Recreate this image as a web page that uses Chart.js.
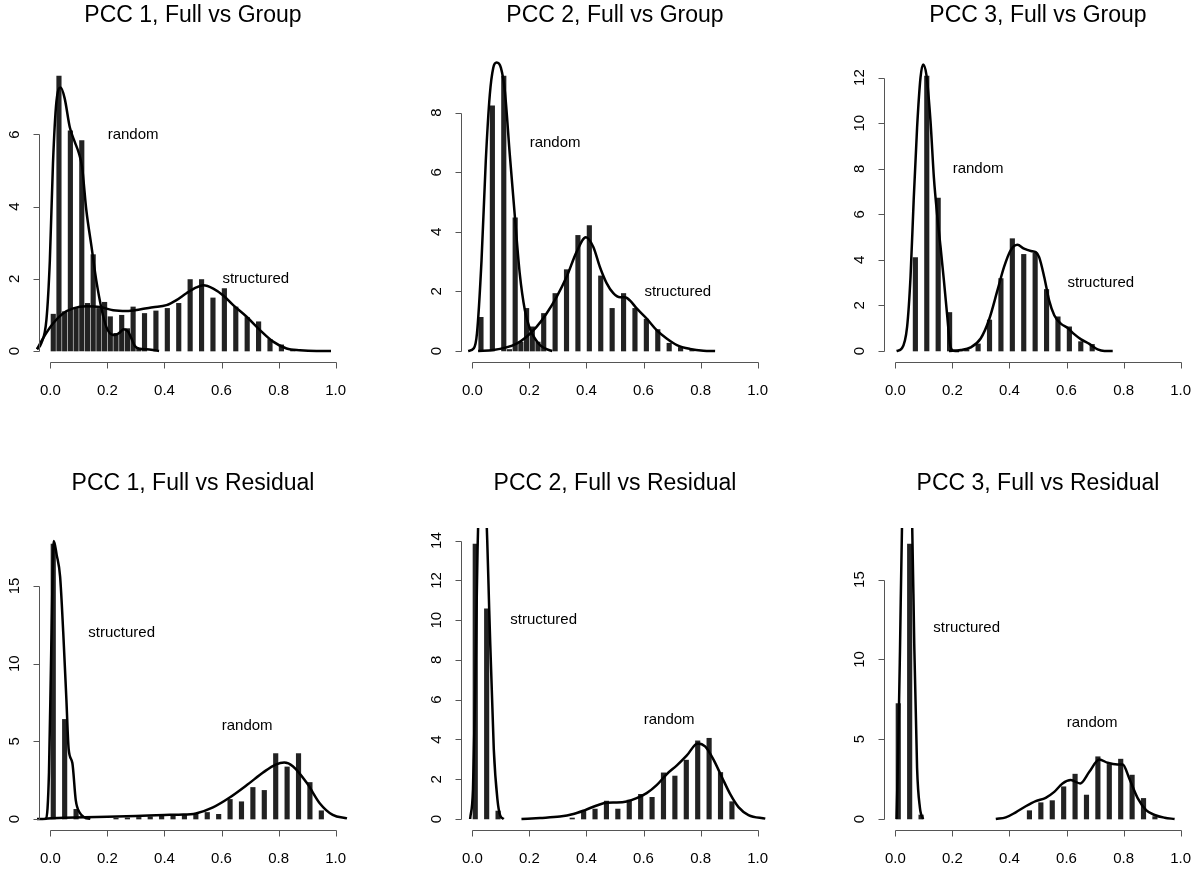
<!DOCTYPE html>
<html>
<head>
<meta charset="utf-8">
<script src="https://cdn.jsdelivr.net/npm/chart.js@4.4.0/dist/chart.umd.min.js"></script>
<style>
  html, body { margin: 0; padding: 0; background: #fff; overflow: hidden; width: 1192px; height: 869px; }
  canvas { position: absolute; }
</style>
</head>
<body>
<canvas id="p1" width="358" height="417" style="left:-6px;top:-5px"></canvas>
<canvas id="p2" width="358" height="417" style="left:416px;top:-5px"></canvas>
<canvas id="p3" width="358" height="417" style="left:839px;top:-5px"></canvas>
<canvas id="p4" width="358" height="417" style="left:-6px;top:463px"></canvas>
<canvas id="p5" width="358" height="417" style="left:416px;top:463px"></canvas>
<canvas id="p6" width="358" height="417" style="left:839px;top:463px"></canvas>
<script>
// histogram bin mids, shared by every panel
const binMids = [0.02, 0.06, 0.10, 0.14, 0.18, 0.22, 0.26, 0.30, 0.34, 0.38, 0.42, 0.46, 0.50,
                 0.54, 0.58, 0.62, 0.66, 0.70, 0.74, 0.78, 0.82, 0.86, 0.90, 0.94, 0.98];
const xTicks = [0, 0.2, 0.4, 0.6, 0.8, 1.0];
const xTickLabels = ["0.0", "0.2", "0.4", "0.6", "0.8", "1.0"];

// ---- PCC 1, Full vs Group
const p1StructBars = [1.02, 1.09, 1.18, 1.32, 1.18, 0.95, 0.99, 1.22, 1.04, 1.11, 1.18, 1.32, 1.98,
                      1.98, 1.47, 1.73, 1.22, 0.93, 0.81, 0.32, 0.17, 0.02, 0, 0, 0];
const p1RandomBars = [7.62, 6.10, 5.83, 2.67, 1.35, 0.49, 0.62, 0.05, 0, 0, 0, 0, 0,
                      0, 0, 0, 0, 0, 0, 0, 0, 0, 0, 0, 0];
const p1RandomDensX = [-0.047, -0.032, -0.014, -0.002, 0.009, 0.021, 0.036, 0.050, 0.068, 0.085, 0.099, 0.111,
                       0.126, 0.144, 0.161, 0.179, 0.196, 0.214, 0.226, 0.243, 0.257, 0.273, 0.284, 0.296,
                       0.313, 0.337, 0.360, 0.381];
const p1RandomDensY = [0.05, 0.21, 0.86, 2.5, 5.2, 6.9, 7.3, 7.0, 6.2, 5.8, 5.5, 5.1,
                       3.9, 2.9, 1.95, 1.18, 0.67, 0.46, 0.44, 0.51, 0.60, 0.53, 0.35, 0.14,
                       0.06, 0.05, 0.03, 0.0];
const p1StructDensX = [-0.047, -0.026, 0.009, 0.044, 0.080, 0.126, 0.173, 0.220, 0.267, 0.313, 0.360, 0.407,
                       0.442, 0.477, 0.512, 0.536, 0.571, 0.606, 0.641, 0.688, 0.735, 0.781, 0.828, 0.875,
                       0.933, 0.984];
const p1StructDensY = [0.05, 0.35, 0.76, 1.04, 1.18, 1.24, 1.22, 1.13, 1.11, 1.15, 1.21, 1.27,
                       1.41, 1.60, 1.76, 1.82, 1.73, 1.54, 1.27, 0.95, 0.58, 0.26, 0.07, 0.02,
                       0.0, 0.0];

// ---- PCC 2, Full vs Group
const p2StructBars = [0, 0, 0, 0.05, 0.30, 0.81, 1.26, 1.93, 2.73, 3.88, 4.21, 2.52, 1.43,
                      1.93, 1.43, 1.07, 0.72, 0.26, 0.12, 0.02, 0, 0, 0, 0, 0];
const p2RandomBars = [1.13, 8.23, 9.23, 4.47, 1.43, 0.30, 0, 0, 0, 0, 0, 0, 0,
                      0, 0, 0, 0, 0, 0, 0, 0, 0, 0, 0, 0];
const p2RandomDensX = [-0.015, 0.005, 0.016, 0.032, 0.047, 0.061, 0.073, 0.085, 0.100, 0.114, 0.131, 0.149,
                       0.166, 0.184, 0.201, 0.219, 0.237, 0.260, 0.280];
const p2RandomDensY = [0, 0.09, 0.59, 3.04, 6.4, 8.6, 9.5, 9.68, 9.5, 8.7, 6.6, 4.5,
                       2.6, 1.37, 0.76, 0.42, 0.20, 0.06, 0];
const p2StructDensX = [0.020, 0.073, 0.119, 0.155, 0.190, 0.225, 0.260, 0.295, 0.330, 0.365, 0.398, 0.424,
                       0.447, 0.471, 0.494, 0.518, 0.535, 0.553, 0.576, 0.611, 0.646, 0.681, 0.717, 0.763,
                       0.810, 0.851];
const p2StructDensY = [0, 0.03, 0.12, 0.25, 0.48, 0.81, 1.26, 1.81, 2.48, 3.32, 3.82, 3.49,
                       2.82, 2.27, 1.94, 1.80, 1.80, 1.69, 1.43, 1.09, 0.70, 0.42, 0.20, 0.07,
                       0.01, 0];

// ---- PCC 3, Full vs Group
const p3StructBars = [0, 0, 0, 0, 0, 0, 0.06, 0.31, 1.36, 3.18, 4.93, 4.24, 4.31,
                      2.70, 1.50, 1.06, 0.41, 0.29, 0, 0, 0, 0, 0, 0, 0];
const p3RandomBars = [0, 4.10, 12.07, 6.71, 1.69, 0.05, 0, 0, 0, 0, 0, 0, 0,
                      0, 0, 0, 0, 0, 0, 0, 0, 0, 0, 0, 0];
const p3RandomDensX = [0.004, 0.023, 0.041, 0.053, 0.064, 0.076, 0.088, 0.097, 0.109, 0.123, 0.135, 0.147,
                       0.158, 0.170, 0.182, 0.191, 0.203, 0.223];
const p3RandomDensY = [0, 0.12, 1.06, 3.25, 6.6, 9.8, 12.0, 12.58, 12.1, 10.1, 7.6, 5.9,
                       4.6, 3.1, 1.5, 0.33, 0.01, 0];
const p3StructDensX = [0.188, 0.229, 0.264, 0.299, 0.328, 0.358, 0.381, 0.404, 0.428, 0.451, 0.475, 0.492,
                       0.504, 0.522, 0.539, 0.557, 0.580, 0.604, 0.627, 0.651, 0.680, 0.709, 0.733, 0.762];
const p3StructDensY = [0, 0.04, 0.16, 0.55, 1.36, 2.67, 3.69, 4.42, 4.66, 4.49, 4.39, 4.34,
                       4.12, 3.24, 2.22, 1.57, 1.20, 1.01, 0.74, 0.51, 0.31, 0.07, 0, 0];

// ---- PCC 1, Full vs Residual
const p4StructBars = [17.7, 6.41, 0.62, 0.10, 0, 0, 0, 0, 0, 0, 0, 0, 0,
                      0, 0, 0, 0, 0, 0, 0, 0, 0, 0, 0, 0];
const p4RandomBars = [0, 0, 0, 0, 0, 0.05, 0.07, 0.10, 0.14, 0.18, 0.20, 0.26, 0.30,
                      0.42, 0.30, 1.26, 1.11, 2.03, 1.84, 4.21, 3.35, 4.21, 2.35, 0.53, 0];
const p4StructDensX = [-0.047, -0.015, -0.005, 0.003, 0.012, 0.022, 0.034, 0.045, 0.056, 0.064, 0.077, 0.089,
                       0.103, 0.120, 0.140];
const p4StructDensY = [0, 0.02, 3.0, 11.0, 17.9, 17.0, 15.6, 12.0, 7.7, 4.5, 3.6, 1.2,
                       0.4, 0.1, 0.02];
const p4RandomDensX = [-0.02, 0.05, 0.12, 0.20, 0.30, 0.40, 0.45, 0.51, 0.57, 0.63, 0.69, 0.75,
                       0.79, 0.82, 0.85, 0.90, 0.945, 0.99, 1.04];
const p4RandomDensY = [0.02, 0.08, 0.12, 0.15, 0.20, 0.26, 0.28, 0.36, 0.75, 1.4, 2.2, 3.05,
                       3.5, 3.63, 3.4, 2.3, 1.0, 0.26, 0.04];

// ---- PCC 2, Full vs Residual
const p5StructBars = [13.83, 10.57, 0.40, 0, 0, 0, 0, 0, 0, 0, 0, 0, 0,
                      0, 0, 0, 0, 0, 0, 0, 0, 0, 0, 0, 0];
const p5RandomBars = [0, 0, 0, 0, 0, 0, 0, 0, 0.05, 0.42, 0.50, 0.90, 0.50,
                      0.95, 1.24, 1.09, 2.32, 2.16, 2.96, 3.93, 4.06, 2.34, 0.87, 0, 0];
const p5StructDensX = [-0.008, 0.002, 0.010, 0.018, 0.035, 0.052, 0.059, 0.075, 0.088, 0.097, 0.110];
const p5StructDensY = [0, 1.5, 6.5, 13.5, 19.5, 14.0, 10.5, 3.5, 0.95, 0.2, 0];
const p5RandomDensX = [0.172, 0.237, 0.307, 0.354, 0.395, 0.436, 0.471, 0.506, 0.541, 0.576, 0.611, 0.646,
                       0.681, 0.717, 0.752, 0.790, 0.816, 0.845, 0.875, 0.904, 0.933, 0.968, 1.027];
const p5RandomDensY = [0, 0.05, 0.12, 0.25, 0.45, 0.68, 0.82, 0.83, 0.88, 1.05, 1.3, 1.7,
                       2.25, 2.7, 3.2, 3.8, 3.65, 3.0, 2.1, 1.25, 0.6, 0.2, 0.02];

// ---- PCC 3, Full vs Residual
const p6StructBars = [7.23, 17.23, 0.25, 0, 0, 0, 0, 0, 0, 0, 0, 0, 0,
                      0, 0, 0, 0, 0, 0, 0, 0, 0, 0, 0, 0];
const p6RandomBars = [0, 0, 0, 0, 0, 0, 0, 0, 0, 0, 0, 0.52, 1.02,
                      1.15, 2.02, 2.81, 1.50, 3.90, 3.42, 3.75, 2.75, 1.29, 0.15, 0, 0];
const p6StructDensX = [0.004, 0.010, 0.016, 0.023, 0.040, 0.059, 0.066, 0.076, 0.086, 0.097];
const p6StructDensY = [0, 4.5, 10.5, 18.2, 22.0, 18.2, 11.0, 3.2, 0.7, 0];
const p6RandomDensX = [0.352, 0.387, 0.422, 0.457, 0.492, 0.527, 0.557, 0.586, 0.615, 0.648, 0.680, 0.715,
                       0.744, 0.779, 0.797, 0.820, 0.850, 0.879, 0.909, 0.944, 0.979];
const p6RandomDensY = [0, 0.1, 0.42, 0.8, 1.12, 1.33, 1.7, 2.23, 2.44, 2.23, 2.96, 3.73,
                       3.52, 3.42, 3.42, 2.54, 1.29, 0.56, 0.25, 0.08, 0];

const FONT = '"Liberation Sans", Arial, Helvetica, sans-serif';

// R-style axes, title and text labels, drawn through the chart scales
const rAxes = {
  id: "rAxes",
  afterDraw(chart, args, opts) {
    const { ctx, chartArea: a } = chart;
    const x = chart.scales.x, y = chart.scales.y;
    ctx.save();
    ctx.strokeStyle = "#555";
    ctx.lineWidth = 1;
    ctx.fillStyle = "#000";

    // x axis
    const by = Math.round(a.bottom) + 0.5;
    ctx.beginPath();
    ctx.moveTo(Math.round(x.getPixelForValue(xTicks[0])) + 0.5, by);
    ctx.lineTo(Math.round(x.getPixelForValue(xTicks[xTicks.length - 1])) + 0.5, by);
    xTicks.forEach(t => {
      const px = Math.round(x.getPixelForValue(t)) + 0.5;
      ctx.moveTo(px, by);
      ctx.lineTo(px, by + 6);
    });
    // y axis
    const bx = Math.round(a.left) + 0.5;
    const yt = opts.yTicks;
    ctx.moveTo(bx, Math.round(y.getPixelForValue(yt[0])) + 0.5);
    ctx.lineTo(bx, Math.round(y.getPixelForValue(yt[yt.length - 1])) + 0.5);
    yt.forEach(t => {
      const py = Math.round(y.getPixelForValue(t)) + 0.5;
      ctx.moveTo(bx, py);
      ctx.lineTo(bx - 6, py);
    });
    ctx.stroke();

    ctx.font = "15px " + FONT;
    ctx.textAlign = "center";
    ctx.textBaseline = "alphabetic";
    xTicks.forEach((t, i) => ctx.fillText(xTickLabels[i], x.getPixelForValue(t), a.bottom + 33));
    yt.forEach(t => {
      ctx.save();
      ctx.translate(a.left - 20, y.getPixelForValue(t));
      ctx.rotate(-Math.PI / 2);
      ctx.fillText(String(t), 0, 0);
      ctx.restore();
    });

    // text labels inside the plot
    ctx.textBaseline = "middle";
    opts.notes.forEach(n => ctx.fillText(n.text, x.getPixelForValue(n.x), y.getPixelForValue(n.y)));

    // title
    ctx.font = "23px " + FONT;
    ctx.textBaseline = "alphabetic";
    ctx.fillText(opts.title, (a.left + a.right) / 2, a.top - 43);
    ctx.restore();
  }
};

function barPoints(heights, shift) {
  return binMids.map((m, i) => ({ x: m + shift, y: heights[i] })).filter(p => p.y > 0);
}

function curvePoints(xs, ys) {
  return xs.map((v, i) => ({ x: v, y: ys[i] }));
}

function lineSet(xs, ys) {
  return {
    type: "line",
    data: curvePoints(xs, ys),
    borderColor: "#000",
    borderWidth: 2.5,
    pointRadius: 0,
    fill: false,
    cubicInterpolationMode: "monotone",
    clip: { left: 12, top: 5, right: 12, bottom: 12 },
    order: 0
  };
}

function barSet(heights, shift) {
  return {
    type: "bar",
    data: barPoints(heights, shift),
    backgroundColor: "#222",
    borderWidth: 0,
    barThickness: 4.5,
    grouped: false,
    order: 1
  };
}

function panel(id, title, yTicks, structBars, randomBars, curves, notes) {
  const yMax = Math.max(...structBars, ...randomBars);
  new Chart(document.getElementById(id), {
    type: "bar",
    data: {
      datasets: [
        ...curves.map(c => lineSet(c[0], c[1])),
        barSet(structBars, -0.01),
        barSet(randomBars, 0.01)
      ]
    },
    options: {
      responsive: false,
      animation: false,
      events: [],
      layout: { padding: { left: 45, right: 5, top: 70, bottom: 50 } },
      plugins: {
        legend: { display: false },
        tooltip: { enabled: false },
        rAxes: { title: title, yTicks: yTicks, notes: notes }
      },
      scales: {
        x: { type: "linear", min: -0.04, max: 1.04, offset: false, display: false },
        y: { type: "linear", min: -0.04 * yMax, max: 1.04 * yMax, display: false }
      }
    },
    plugins: [rAxes]
  });
}

panel("p1", "PCC 1, Full vs Group", [0, 2, 4, 6], p1StructBars, p1RandomBars,
  [[p1RandomDensX, p1RandomDensY], [p1StructDensX, p1StructDensY]],
  [{ text: "random", x: 0.29, y: 6 }, { text: "structured", x: 0.72, y: 2 }]);

panel("p2", "PCC 2, Full vs Group", [0, 2, 4, 6, 8], p2StructBars, p2RandomBars,
  [[p2RandomDensX, p2RandomDensY], [p2StructDensX, p2StructDensY]],
  [{ text: "random", x: 0.29, y: 7 }, { text: "structured", x: 0.72, y: 2 }]);

panel("p3", "PCC 3, Full vs Group", [0, 2, 4, 6, 8, 10, 12], p3StructBars, p3RandomBars,
  [[p3RandomDensX, p3RandomDensY], [p3StructDensX, p3StructDensY]],
  [{ text: "random", x: 0.29, y: 8 }, { text: "structured", x: 0.72, y: 3 }]);

panel("p4", "PCC 1, Full vs Residual", [0, 5, 10, 15], p4StructBars, p4RandomBars,
  [[p4StructDensX, p4StructDensY], [p4RandomDensX, p4RandomDensY]],
  [{ text: "structured", x: 0.25, y: 12 }, { text: "random", x: 0.69, y: 6 }]);

panel("p5", "PCC 2, Full vs Residual", [0, 2, 4, 6, 8, 10, 12, 14], p5StructBars, p5RandomBars,
  [[p5StructDensX, p5StructDensY], [p5RandomDensX, p5RandomDensY]],
  [{ text: "structured", x: 0.25, y: 10 }, { text: "random", x: 0.69, y: 5 }]);

panel("p6", "PCC 3, Full vs Residual", [0, 5, 10, 15], p6StructBars, p6RandomBars,
  [[p6StructDensX, p6StructDensY], [p6RandomDensX, p6RandomDensY]],
  [{ text: "structured", x: 0.25, y: 12 }, { text: "random", x: 0.69, y: 6 }]);
</script>
</body>
</html>
